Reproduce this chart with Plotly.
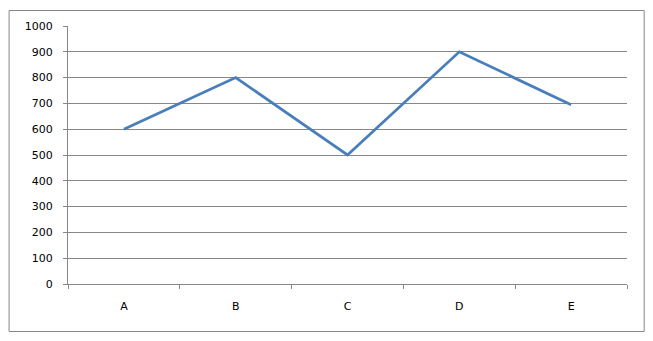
import plotly.graph_objects as go

categories = ["A", "B", "C", "D", "E"]
values = [600, 800, 500, 900, 695]
y_ticks = list(range(0, 1001, 100))

W, H = 653, 341
L, R, T, B = 67.5, 25.7, 26, 57
pw = W - L - R
ph = H - T - B

fig = go.Figure(go.Scatter(x=categories, y=values, mode="lines",
                           line=dict(color="#4A7EBB", width=2.8)))

fig.update_layout(
    width=W, height=H,
    margin=dict(l=L, r=R, t=T, b=B, pad=0),
    paper_bgcolor="white", plot_bgcolor="white",
    showlegend=False,
    font=dict(family="DejaVu Sans", size=11, color="black"),
    xaxis=dict(type="category", tickson="boundaries", ticks="outside", ticklen=4,
               tickcolor="#878787", showline=True, linecolor="#878787", linewidth=1,
               showgrid=False, ticklabelstandoff=12, range=[-0.5, 4.5]),
    yaxis=dict(range=[0, 1000], tickvals=y_ticks, ticks="outside", ticklen=4,
               tickcolor="#878787", showline=True, linecolor="#878787", linewidth=1,
               gridcolor="#878787", gridwidth=1, zeroline=False, ticklabelstandoff=8),
    shapes=[dict(type="rect", xref="paper", yref="paper",
                 x0=(8.5 - L) / pw, x1=(644.5 - L) / pw,
                 y0=1 - (331.5 - T) / ph, y1=1 - (10.5 - T) / ph,
                 line=dict(color="#878787", width=1), layer="below")],
)

fig.write_html("out.html")
